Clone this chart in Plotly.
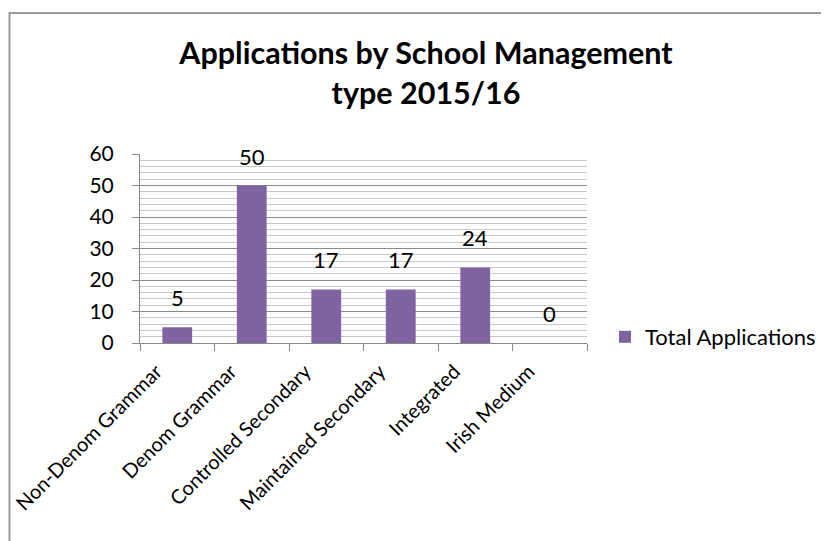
import plotly.graph_objects as go

categories = ["Non-Denom Grammar", "Denom Grammar", "Controlled Secondary",
              "Maintained Secondary", "Integrated", "Irish Medium"]
values = [5, 50, 17, 17, 24, 0]
series_name = "Total Applications"
y_ticks = [0, 10, 20, 30, 40, 50, 60]

W, H = 829, 541
OFF = 8  # page body margin
# target plot area in screen pixels
SX0, SX1, SY0, SY1 = 140, 587, 154, 343
L = SX0 - OFF
T = SY0 - OFF
pw = SX1 - SX0
ph = SY1 - SY0
R = W - L - pw
B = H - T - ph

def px_x(sx):
    return (sx - SX0) / pw

def px_y(sy):
    return (SY1 - sy) / ph

FONT = "Lato, Open Sans, sans-serif"

fig = go.Figure()
fig.add_trace(go.Bar(
    x=categories, y=values, name=series_name,
    marker=dict(color="#8064A2", line=dict(width=0)),
    showlegend=True,
))

for c, v in zip(categories, values):
    fig.add_annotation(x=c, y=v, text=str(v), showarrow=False,
                       yanchor="bottom", yshift=14,
                       font=dict(family=FONT, size=22, color="#000"))

fig.update_layout(
    width=W, height=H,
    margin=dict(l=L, r=R, t=T, b=B, autoexpand=False),
    paper_bgcolor="white", plot_bgcolor="white",
    bargap=0.6,
    title=dict(text="<b>Applications by School Management<br>type 2015/16</b>",
               x=(426 - OFF) / W, xanchor="center",
               y=1 - 56 / H, yanchor="middle",
               font=dict(family=FONT, size=30.5, color="#000")),
    showlegend=True,
    legend=dict(x=px_x(605), y=px_y(337), xanchor="left", yanchor="middle",
                font=dict(family=FONT, size=22, color="#000"),
                bgcolor="rgba(0,0,0,0)"),
    xaxis=dict(type="category", tickangle=-45, ticks="outside", tickson="boundaries",
               ticklen=7, tickcolor="#888", showline=True, linecolor="#888",
               ticklabelstandoff=8, ticklabelshift=-21,
               tickfont=dict(family=FONT, size=20, color="#000"), showgrid=False),
    yaxis=dict(range=[0, 60], tickvals=y_ticks, ticks="outside", ticklen=7,
               tickcolor="#888", showline=True, linecolor="#888",
               ticklabelstandoff=14,
               showgrid=True, gridcolor="#8c8c8c", gridwidth=1,
               minor=dict(dtick=2, showgrid=True, gridcolor="#c8c8c8", gridwidth=1),
               tickfont=dict(family=FONT, size=21, color="#000"), zeroline=False),
    shapes=[dict(type="rect", xref="paper", yref="paper",
                 x0=px_x(9.5), x1=px_x(W + 40), y0=px_y(H + 40), y1=px_y(13),
                 line=dict(color="#999", width=2), layer="below")],
)

fig.write_html("out.html")
